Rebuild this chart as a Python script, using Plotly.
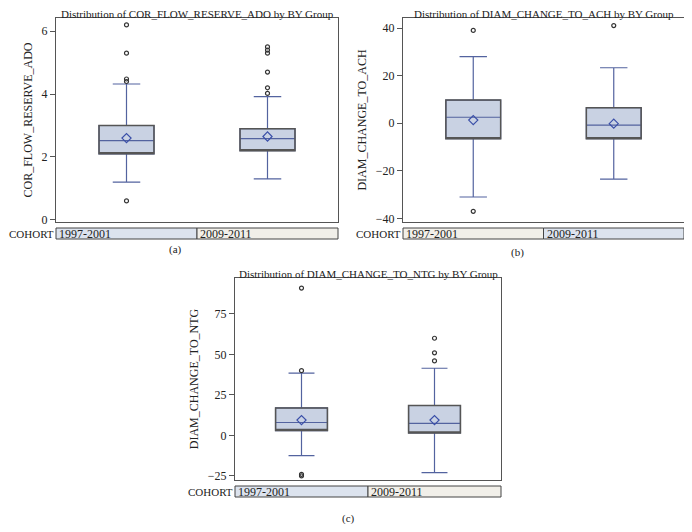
import plotly.graph_objects as go

# page is shown with the browser's default 8px body margin
OFF = 8
W, H = 692 - 2 * OFF, 532 - 2 * OFF
cohorts = ["1997-2001", "2009-2011"]

# Panel (a) COR_FLOW_RESERVE_ADO
a_q1 = [2.1, 2.2]
a_med = [2.52, 2.58]
a_q3 = [3.0, 2.9]
a_lo = [1.2, 1.3]
a_hi = [4.32, 3.92]
a_mean = [2.6, 2.65]
a_out1 = [0.6, 4.4, 4.48, 5.3, 6.2]
a_out2 = [4.02, 4.2, 4.7, 5.3, 5.4, 5.5]

# Panel (b) DIAM_CHANGE_TO_ACH
b_q1 = [-6.5, -6.5]
b_med = [2.5, -0.8]
b_q3 = [9.7, 6.5]
b_lo = [-31, -23.5]
b_hi = [28, 23.3]
b_mean = [1.3, -0.2]
b_out1 = [39, -37]
b_out2 = [41]

# Panel (c) DIAM_CHANGE_TO_NTG
c_q1 = [3, 1.5]
c_med = [8, 7.5]
c_q3 = [17, 18.5]
c_lo = [-12.5, -23]
c_hi = [38.5, 41.5]
c_mean = [9.5, 9.5]
c_out1 = [40, 91, -24, -25]
c_out2 = [46, 51, 60]

panels = [
    dict(name="COR_FLOW_RESERVE_ADO", q1=a_q1, med=a_med, q3=a_q3, lo=a_lo, hi=a_hi,
         mean=a_mean, out=[a_out1, a_out2], yr=[-0.07, 6.42], ticks=[0, 2, 4, 6],
         dx=[56, 338], dy=[18, 222], seg=["#dce3ee", "#f1efe9"], label="(a)", lab=(175, 250)),
    dict(name="DIAM_CHANGE_TO_ACH", q1=b_q1, med=b_med, q3=b_q3, lo=b_lo, hi=b_hi,
         mean=b_mean, out=[b_out1, b_out2], yr=[-41.5, 44.2], ticks=[-40, -20, 0, 20, 40],
         dx=[403, 684], dy=[18, 222], seg=["#f1efe9", "#dce3ee"], label="(b)", lab=(517, 253)),
    dict(name="DIAM_CHANGE_TO_NTG", q1=c_q1, med=c_med, q3=c_q3, lo=c_lo, hi=c_hi,
         mean=c_mean, out=[c_out1, c_out2], yr=[-27.5, 97.2], ticks=[-25, 0, 25, 50, 75],
         dx=[235, 501], dy=[278, 480], seg=["#dce3ee", "#f1efe9"], label="(c)", lab=(348, 518)),
]

FONT = "Liberation Serif"
fig = go.Figure()
shapes = []
annotations = []
BLUE = "#53639f"
GREY = "#555555"

for i, p in enumerate(panels):
    n = "" if i == 0 else str(i + 1)
    xa, ya = "x" + n, "y" + n
    # whiskers, median and fill (blue)
    fig.add_trace(go.Box(
        x=cohorts, q1=p["q1"], median=p["med"], q3=p["q3"],
        lowerfence=p["lo"], upperfence=p["hi"],
        xaxis=xa, yaxis=ya, width=0.39, whiskerwidth=0.5,
        fillcolor="#c9d2e3", line=dict(color=BLUE, width=1.2),
        boxpoints=False, showlegend=False, hoverinfo="skip"))
    # darker box outline on top
    fig.add_trace(go.Box(
        x=cohorts, q1=p["q1"], median=p["q1"], q3=p["q3"],
        lowerfence=p["q1"], upperfence=p["q3"],
        xaxis=xa, yaxis=ya, width=0.39, whiskerwidth=0,
        fillcolor="rgba(0,0,0,0)", line=dict(color=GREY, width=1.5),
        boxpoints=False, showlegend=False, hoverinfo="skip"))
    for c, outs in zip(cohorts, p["out"]):
        fig.add_trace(go.Scatter(
            x=[c] * len(outs), y=outs, mode="markers", xaxis=xa, yaxis=ya,
            marker=dict(symbol="circle-open", size=4, color="#333333",
                        line=dict(width=1.2)),
            showlegend=False, hoverinfo="skip"))
    fig.add_trace(go.Scatter(
        x=cohorts, y=p["mean"], mode="markers", xaxis=xa, yaxis=ya,
        marker=dict(symbol="diamond-open", size=7, color="#3a4fa8",
                    line=dict(width=1.2)),
        showlegend=False, hoverinfo="skip"))

    dom_x = [(p["dx"][0] - OFF) / W, (p["dx"][1] - OFF) / W]
    dom_y = [1 - (p["dy"][1] - OFF) / H, 1 - (p["dy"][0] - OFF) / H]
    fig.layout["xaxis" + n] = dict(
        domain=dom_x, anchor=ya, type="category", range=[-0.5, 1.5],
        showticklabels=False, ticks="", showgrid=False, zeroline=False,
        automargin=False,
        showline=True, mirror=True, linecolor=GREY, linewidth=1.2)
    fig.layout["yaxis" + n] = dict(
        domain=dom_y, anchor=xa, range=p["yr"], tickvals=p["ticks"],
        ticks="outside", ticklen=5, tickcolor=GREY, showgrid=False,
        zeroline=False, showline=True, mirror=True, linecolor=GREY,
        automargin=False,
        linewidth=1.2, tickfont=dict(family=FONT, size=12, color="#222"),
        title=dict(text=p["name"], font=dict(family=FONT, size=12, color="#222"),
                   standoff=6))

    ph = p["dy"][1] - p["dy"][0]
    y0 = -(6 / ph)
    y1 = -(17 / ph)
    for k in range(2):
        shapes.append(dict(type="rect", xref=xa + " domain", yref=ya + " domain",
                           x0=k * 0.5, x1=(k + 1) * 0.5, y0=y1, y1=y0,
                           fillcolor=p["seg"][k], line=dict(color="#444444", width=1)))
        annotations.append(dict(xref=xa + " domain", yref=ya + " domain",
                                x=k * 0.5 + 0.005, y=(y0 + y1) / 2, text=cohorts[k],
                                showarrow=False, xanchor="left", yanchor="middle",
                                font=dict(family=FONT, size=12, color="#222")))
    annotations.append(dict(xref=xa + " domain", yref=ya + " domain",
                            x=0, xshift=0, y=(y0 + y1) / 2, text="COHORT",
                            showarrow=False, xanchor="right", yanchor="middle",
                            font=dict(family=FONT, size=11, color="#222")))
    annotations.append(dict(xref=xa + " domain", yref=ya + " domain",
                            x=0.5, y=1.0, text="Distribution of " + p["name"] + " by BY Group",
                            showarrow=False, xanchor="center", yanchor="middle",
                            yshift=4,
                            font=dict(family=FONT, size=11, color="#222")))
    annotations.append(dict(xref="paper", yref="paper", x=(p["lab"][0] - OFF) / W,
                            y=1 - (p["lab"][1] - OFF) / H, text=p["label"], showarrow=False,
                            xanchor="center", yanchor="middle",
                            font=dict(family=FONT, size=11, color="#222")))

fig.update_layout(width=W, height=H, margin=dict(l=0, r=0, t=0, b=0),
                  paper_bgcolor="white", plot_bgcolor="white",
                  boxmode="overlay", shapes=shapes, annotations=annotations)
fig.write_html("out.html")
